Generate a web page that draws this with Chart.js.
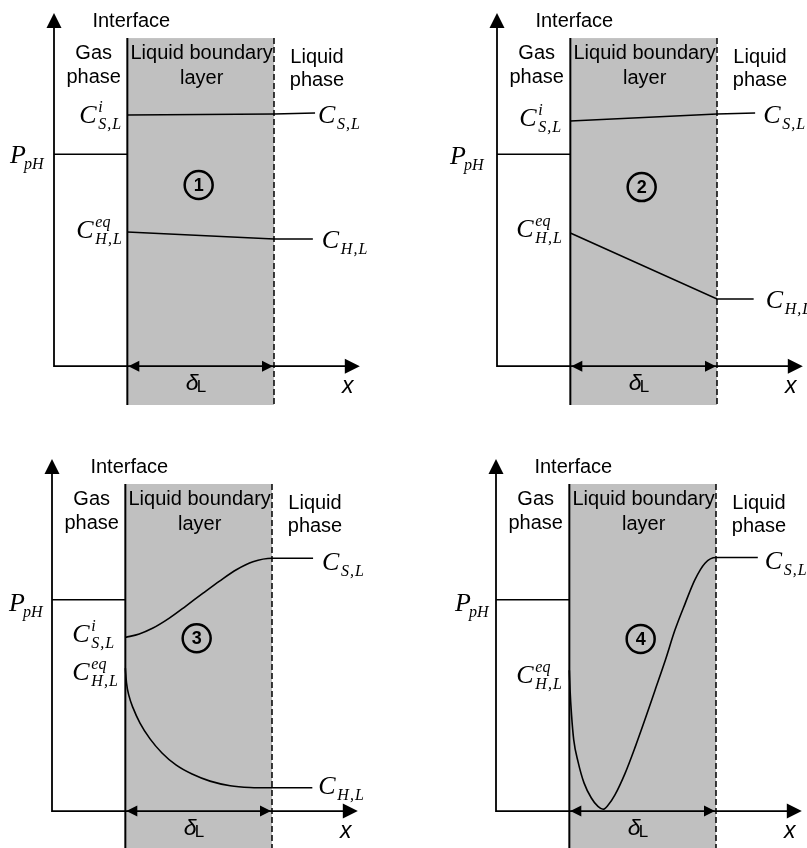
<!DOCTYPE html>
<html><head><meta charset="utf-8">
<script src="https://cdn.jsdelivr.net/npm/chart.js@4.4.1/dist/chart.umd.min.js"></script>
<style>
html,body{margin:0;padding:0;background:#fff;}
#wrap{position:relative;width:807px;height:848px;overflow:hidden;background:#fff}
canvas{position:absolute}
</style></head><body><div id="wrap">
<canvas id="c1" width="400" height="420" style="left:0;top:0"></canvas>
<canvas id="c2" width="407" height="420" style="left:400px;top:0"></canvas>
<canvas id="c3" width="400" height="428" style="left:0;top:420px"></canvas>
<canvas id="c4" width="407" height="428" style="left:400px;top:420px"></canvas>
</div>
<script>
// ---- DATA (x: 0 = gas axis, 1 = interface, 3 = edge of liquid boundary layer) ----
const gasX = [0, 1];
const pphY = [6.0, 6.0];
const interfaceX = 1;
const layerEndX = 3;
const axisTopY = 10;
const axisEndX = 4.17;
const layerTopY = 9.29;

// Panel 1
const p1CsX = [1.0, 3.0, 3.56];
const p1CsY = [7.11, 7.14, 7.17];
const p1ChX = [1.0, 3.0, 3.53];
const p1ChY = [3.80, 3.60, 3.60];
// Panel 2
const p2CsX = [1.0, 3.0, 3.52];
const p2CsY = [6.94, 7.14, 7.17];
const p2ChX = [1.0, 3.0, 3.50];
const p2ChY = [3.77, 1.90, 1.90];
// Panel 3
const p3CsX = [1.0, 1.19, 1.37, 1.6, 1.83, 2.06, 2.29, 2.52, 2.74, 3.0, 3.56];
const p3CsY = [4.93, 5.03, 5.19, 5.48, 5.83, 6.19, 6.54, 6.86, 7.08, 7.18, 7.18];
const p3ChX = [1.0, 1.016, 1.05, 1.105, 1.2, 1.337, 1.5, 1.69, 1.91, 2.155, 2.43, 2.70, 2.99, 3.55];
const p3ChY = [4.06, 3.64, 3.27, 2.93, 2.5, 2.05, 1.65, 1.31, 1.05, 0.85, 0.72, 0.67, 0.66, 0.66];
// Panel 4
const p4X = [1.0, 1.01, 1.03, 1.06, 1.12, 1.2, 1.3, 1.39, 1.46, 1.53, 1.62, 1.76, 1.9, 2.03, 2.17, 2.31, 2.44, 2.58, 2.71, 2.85, 3.0, 3.57];
const p4Y = [4.0, 3.44, 2.73, 2.02, 1.39, 0.80, 0.37, 0.13, 0.05, 0.17, 0.45, 1.07, 1.83, 2.59, 3.44, 4.29, 5.14, 5.9, 6.56, 7.04, 7.2, 7.2];

// Text
const txtInterface = 'Interface';
const txtGas = ['Gas', 'phase'];
const txtLayer = ['Liquid boundary', 'layer'];
const txtLiquid = ['Liquid', 'phase'];
const panelNumbers = ['1', '2', '3', '4'];

// ---- helpers ----
const SERIF = '"Liberation Serif", "Times New Roman", serif';
const SANS = '"Liberation Sans", Arial, sans-serif';
const pts = (xs, ys) => xs.map((x, i) => ({x, y: ys[i]}));

function arrowHead(ctx, tx, ty, dir, len, half) {
  ctx.beginPath();
  if (dir === 'up') { ctx.moveTo(tx, ty); ctx.lineTo(tx - half, ty + len); ctx.lineTo(tx + half, ty + len); }
  else if (dir === 'right') { ctx.moveTo(tx, ty); ctx.lineTo(tx - len, ty - half); ctx.lineTo(tx - len, ty + half); }
  else { ctx.moveTo(tx, ty); ctx.lineTo(tx + len, ty - half); ctx.lineTo(tx + len, ty + half); }
  ctx.closePath(); ctx.fill();
}
function concLabel(ctx, x, base, sub, sup) {
  ctx.textAlign = 'left'; ctx.textBaseline = 'alphabetic'; ctx.fillStyle = '#000';
  ctx.font = 'italic 26px ' + SERIF; ctx.fillText('C', x, base);
  ctx.font = 'italic 16px ' + SERIF;
  if ('letterSpacing' in ctx) ctx.letterSpacing = '1px';
  ctx.fillText(sub, x + 19, base + 6);
  if ('letterSpacing' in ctx) ctx.letterSpacing = '0px';
  if (sup) ctx.fillText(sup, x + 19, base - 11);
}

const diagramPlugin = {
  id: 'diagram',
  beforeDatasetsDraw(chart) {
    const ctx = chart.ctx, sx = chart.scales.x, sy = chart.scales.y;
    const x1 = sx.getPixelForValue(interfaceX), x3 = sx.getPixelForValue(layerEndX);
    const yt = sy.getPixelForValue(layerTopY), yb = sy.getPixelForValue(sy.min);
    ctx.save(); ctx.fillStyle = '#c0c0c0'; ctx.fillRect(x1, yt, x3 - x1, yb - yt); ctx.restore();
  },
  afterDatasetsDraw(chart) {
    const ctx = chart.ctx, sx = chart.scales.x, sy = chart.scales.y;
    const cfg = chart.options.plugins.diagram;
    const x0 = sx.getPixelForValue(0), y0 = sy.getPixelForValue(0);
    const x1 = sx.getPixelForValue(interfaceX), x3 = sx.getPixelForValue(layerEndX);
    const yt = sy.getPixelForValue(layerTopY), yb = sy.getPixelForValue(sy.min);
    const yTop = sy.getPixelForValue(axisTopY), xEnd = sx.getPixelForValue(axisEndX);
    ctx.save();
    ctx.strokeStyle = '#000'; ctx.fillStyle = '#000';
    // interface line
    ctx.lineWidth = 2; ctx.beginPath(); ctx.moveTo(x1, yt); ctx.lineTo(x1, yb); ctx.stroke();
    // dashed boundary
    ctx.lineWidth = 1.5; ctx.setLineDash([6, 3]); ctx.beginPath(); ctx.moveTo(x3, yt); ctx.lineTo(x3, yb); ctx.stroke();
    ctx.setLineDash([]);
    // axes
    ctx.lineWidth = 1.8;
    ctx.beginPath(); ctx.moveTo(x0, yTop + 10); ctx.lineTo(x0, y0); ctx.lineTo(xEnd - 10, y0); ctx.stroke();
    arrowHead(ctx, x0, yTop, 'up', 15, 7.5);
    arrowHead(ctx, xEnd, y0, 'right', 15, 7.5);
    // delta_L double arrow
    arrowHead(ctx, x1 + 1, y0, 'left', 11, 5.5);
    arrowHead(ctx, x3 - 1, y0, 'right', 11, 5.5);
    // delta_L label
    const xm = (x1 + x3) / 2;
    ctx.textAlign = 'left'; ctx.textBaseline = 'alphabetic';
    ctx.font = 'italic 23px ' + SANS; ctx.fillText('\u03B4', xm - 15, y0 + 24);
    ctx.font = '17px ' + SANS; ctx.fillText('L', xm - 4, y0 + 26);
    // x label
    ctx.textAlign = 'center'; ctx.font = 'italic 23px ' + SANS; ctx.fillText('x', xEnd - 12, y0 + 27);
    // region texts
    ctx.font = '20px ' + SANS; ctx.textBaseline = 'middle'; ctx.textAlign = 'center';
    ctx.fillText(txtInterface, x1 + 4, yt - 17);
    const gm = (x0 + x1) / 2 + 3;
    ctx.fillText(txtGas[0], gm, yt + 15); ctx.fillText(txtGas[1], gm, yt + 39);
    ctx.fillText(txtLayer[0], xm + 1, yt + 15); ctx.fillText(txtLayer[1], xm + 1, yt + 40);
    ctx.fillText(txtLiquid[0], x3 + 43, yt + 19); ctx.fillText(txtLiquid[1], x3 + 43, yt + 42);
    // circled number
    const cy = sy.getPixelForValue(cfg.numY);
    ctx.lineWidth = 2.5; ctx.beginPath(); ctx.arc(xm - 2, cy, 14, 0, Math.PI * 2); ctx.stroke();
    ctx.font = 'bold 18px ' + SANS; ctx.fillText(cfg.num, xm - 2, cy + 1);
    // P_pH label
    const py = sy.getPixelForValue(pphY[0]);
    ctx.textAlign = 'left'; ctx.textBaseline = 'alphabetic';
    ctx.font = 'italic 26px ' + SERIF; ctx.fillText('P', x0 + cfg.pLab[0], py + cfg.pLab[1]);
    ctx.font = 'italic 16px ' + SERIF; ctx.fillText('pH', x0 + cfg.pLab[0] + 14, py + cfg.pLab[1] + 6);
    // concentration labels
    const ds = chart.data.datasets;
    cfg.labels.forEach(l => {
      const d = ds[l.ds].data;
      const p = l.side === 'left' ? d[0] : d[d.length - 1];
      const ax = sx.getPixelForValue(p.x), ay = sy.getPixelForValue(p.y);
      concLabel(ctx, ax + l.dx, ay + l.dy, l.sub, l.sup);
    });
    ctx.restore();
  }
};

function makeChart(id, pad, ymin, series, curved, diag) {
  const datasets = [{data: pts(gasX, pphY), tension: 0}];
  series.forEach(s => datasets.push({data: pts(s[0], s[1]), cubicInterpolationMode: curved ? 'monotone' : 'default', tension: 0}));
  datasets.forEach(d => { d.showLine = true; d.borderColor = '#000'; d.borderWidth = 1.6; d.pointRadius = 0; d.fill = false; });
  return new Chart(document.getElementById(id), {
    type: 'scatter',
    data: {datasets},
    options: {
      responsive: false, maintainAspectRatio: false, animation: false, events: [],
      layout: {padding: pad},
      scales: {
        x: {type: 'linear', min: 0, max: 4.2, display: false},
        y: {type: 'linear', min: ymin, max: 10, display: false}
      },
      plugins: {legend: {display: false}, tooltip: {enabled: false}, diagram: diag}
    },
    plugins: [diagramPlugin]
  });
}

makeChart('c1', {left: 54, right: 38, top: 13, bottom: 15}, -1.1,
  [[p1CsX, p1CsY], [p1ChX, p1ChY]], false,
  {num: panelNumbers[0], numY: 5.13, pLab: [-44, 9], labels: [
    {ds: 1, side: 'left', dx: -48, dy: 8, sub: 'S,L', sup: 'i'},
    {ds: 2, side: 'left', dx: -51, dy: 6, sub: 'H,L', sup: 'eq'},
    {ds: 1, side: 'right', dx: 3, dy: 10, sub: 'S,L'},
    {ds: 2, side: 'right', dx: 9, dy: 9, sub: 'H,L'}]});

makeChart('c2', {left: 97, right: 2, top: 13, bottom: 15}, -1.1,
  [[p2CsX, p2CsY], [p2ChX, p2ChY]], false,
  {num: panelNumbers[1], numY: 5.07, pLab: [-47, 10], labels: [
    {ds: 1, side: 'left', dx: -51, dy: 5, sub: 'S,L', sup: 'i'},
    {ds: 2, side: 'left', dx: -54, dy: 4, sub: 'H,L', sup: 'eq'},
    {ds: 1, side: 'right', dx: 8, dy: 10, sub: 'S,L'},
    {ds: 2, side: 'right', dx: 12, dy: 9, sub: 'H,L'}]});

makeChart('c3', {left: 52, right: 40, top: 39, bottom: 0}, -1.05,
  [[p3CsX, p3CsY], [p3ChX, p3ChY]], true,
  {num: panelNumbers[2], numY: 4.91, pLab: [-43, 11], labels: [
    {ds: 1, side: 'left', dx: -53, dy: 5, sub: 'S,L', sup: 'i'},
    {ds: 2, side: 'left', dx: -53, dy: 12, sub: 'H,L', sup: 'eq'},
    {ds: 1, side: 'right', dx: 9, dy: 12, sub: 'S,L'},
    {ds: 2, side: 'right', dx: 6, dy: 6, sub: 'H,L'}]});

makeChart('c4', {left: 96, right: 3, top: 39, bottom: 0}, -1.05,
  [[p4X, p4Y]], true,
  {num: panelNumbers[3], numY: 4.89, pLab: [-41, 11], labels: [
    {ds: 1, side: 'left', dx: -53, dy: 13, sub: 'H,L', sup: 'eq'},
    {ds: 1, side: 'right', dx: 7, dy: 11, sub: 'S,L'}]});
</script>
</body></html>
